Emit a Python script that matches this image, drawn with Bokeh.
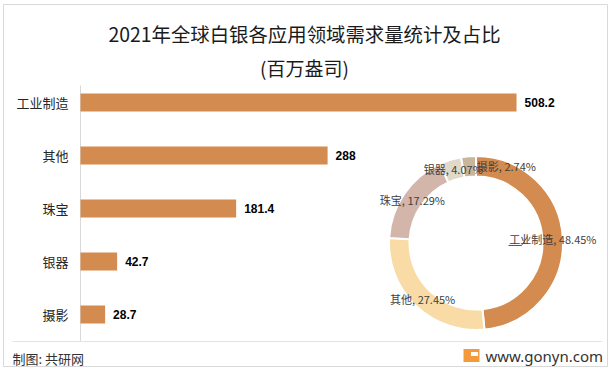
import math
from bokeh.plotting import figure
from bokeh.models import Range1d, ColumnDataSource
from bokeh.core.properties import value
from bokeh.embed import file_html
from bokeh.resources import INLINE

# ---- data ----
categories = ["工业制造", "其他", "珠宝", "银器", "摄影"]
demand = [508.2, 288, 181.4, 42.7, 28.7]
value_labels = ["508.2", "288", "181.4", "42.7", "28.7"]
share_pct = [48.45, 27.45, 17.29, 4.07, 2.74]
share_labels = ["48.45%", "27.45%", "17.29%", "4.07%", "2.74%"]
slice_colors = ["#D38B4F", "#F9DBA6", "#D4B5AA", "#E0D8C8", "#C9B59B"]
title_line1 = "2021年全球白银各应用领域需求量统计及占比"
title_line2 = "(百万盎司)"
footer_left = "制图: 共研网"
footer_right = "www.gonyn.com"

W, H = 612, 371
CJK = value("Noto Sans CJK SC")

# bar scale: ~0.858 px per unit, zero at x=80 px; bar spacing 53 px
px_per_unit = 0.858
x0_px = 80
y0_px = 57
step = 53
p = figure(width=W, height=H, output_backend="svg", toolbar_location=None,
           x_range=Range1d(-x0_px / px_per_unit, (W - x0_px) / px_per_unit),
           y_range=Range1d(-y0_px / step, (H - y0_px) / step),
           min_border=0, min_border_left=0, min_border_right=0,
           min_border_top=0, min_border_bottom=0)
p.axis.visible = False
p.grid.visible = False
p.outline_line_color = None
p.background_fill_color = "white"
p.border_fill_color = "white"
p.extra_x_ranges = {"px": Range1d(0, W)}
p.extra_y_ranges = {"py": Range1d(0, H)}

PX = dict(x_range_name="px", y_range_name="py")

# outer border
p.quad(left=[3], right=[607], bottom=[5], top=[367], fill_color=None,
       line_color="#D9D9D9", line_width=1, **PX)

n = len(categories)
ypos = [n - 1 - i for i in range(n)]
src = ColumnDataSource(dict(y=ypos, v=demand, cat=categories, lab=value_labels))

# axis line and footer separator
p.segment(x0=[x0_px], y0=[30], x1=[x0_px], y1=[286], line_color="#D9D9D9",
          line_width=1, **PX)
p.segment(x0=[12], y0=[30], x1=[602], y1=[30], line_color="#E3E3E3",
          line_width=1, **PX)

# bars
p.hbar(y="y", left=0, right="v", height=0.34, source=src,
       fill_color="#D38B4F", line_color=None)
p.text(x=0, y="y", text="cat", source=src, x_offset=-12, text_align="right",
       text_baseline="middle", text_font=CJK, text_font_size="13px",
       text_color="#262626")
p.text(x="v", y="y", text="lab", source=src, x_offset=8, text_align="left",
       text_baseline="middle", text_font=value("Liberation Sans"),
       text_font_size="12px", text_font_style="bold", text_color="#000000")

# donut
cx, cy = 475.5, 128.5
total = sum(share_pct)
starts, ends, mids = [], [], []
acc = 0.0
for s in share_pct:
    a0 = math.pi / 2 - 2 * math.pi * acc / total
    acc += s
    a1 = math.pi / 2 - 2 * math.pi * acc / total
    starts.append(a0)
    ends.append(a1)
    mids.append((a0 + a1) / 2)
dsrc = ColumnDataSource(dict(x=[cx] * n, y=[cy] * n, s=starts, e=ends, c=slice_colors))
p.annular_wedge(x="x", y="y", inner_radius=66.5, outer_radius=87,
                inner_radius_units="screen", outer_radius_units="screen",
                start_angle="s", end_angle="e", direction="clock",
                fill_color="c", line_color="white", line_width=2,
                source=dsrc, **PX)

# donut labels
lab_r = 77
x_shift = [0, 0, 0, 0, 37]
lx = [cx + lab_r * math.cos(m) + dx for m, dx in zip(mids, x_shift)]
ly = [cy + lab_r * math.sin(m) for m in mids]
ltxt = [f"{c}, {s}" for c, s in zip(categories, share_labels)]
p.line(x=[508, 521, 527], y=[126, 126, 135], line_color="#595959", line_width=1, **PX)
p.text(x=lx, y=ly, text=ltxt, text_align="center", text_baseline="middle",
       text_font=CJK, text_font_size="11px", text_color="#404040", **PX)

# titles
p.text(x=[304], y=[338], text=[title_line1], text_align="center",
       text_baseline="middle", text_font=CJK, text_font_size="19.4px",
       text_color="#1a1a1a", **PX)
p.text(x=[304], y=[304], text=[title_line2], text_align="center",
       text_baseline="middle", text_font=CJK, text_font_size="19px",
       text_color="#1a1a1a", **PX)

# footer
p.text(x=[12], y=[13], text=[footer_left], text_align="left",
       text_baseline="middle", text_font=CJK, text_font_size="13px",
       text_color="#333333", **PX)
p.rect(x=[471], y=[16], width=[16], height=[13], fill_color="#F39A3C",
       line_color=None, **PX)
p.rect(x=[474], y=[17.5], width=[7], height=[4], fill_color="white",
       line_color=None, **PX)
p.text(x=[485], y=[16], text=[footer_right], text_align="left",
       text_baseline="middle", text_font=value("Noto Sans"), text_font_size="15px",
       text_color="#333333", **PX)

open("out.html", "w").write(file_html(p, INLINE))
